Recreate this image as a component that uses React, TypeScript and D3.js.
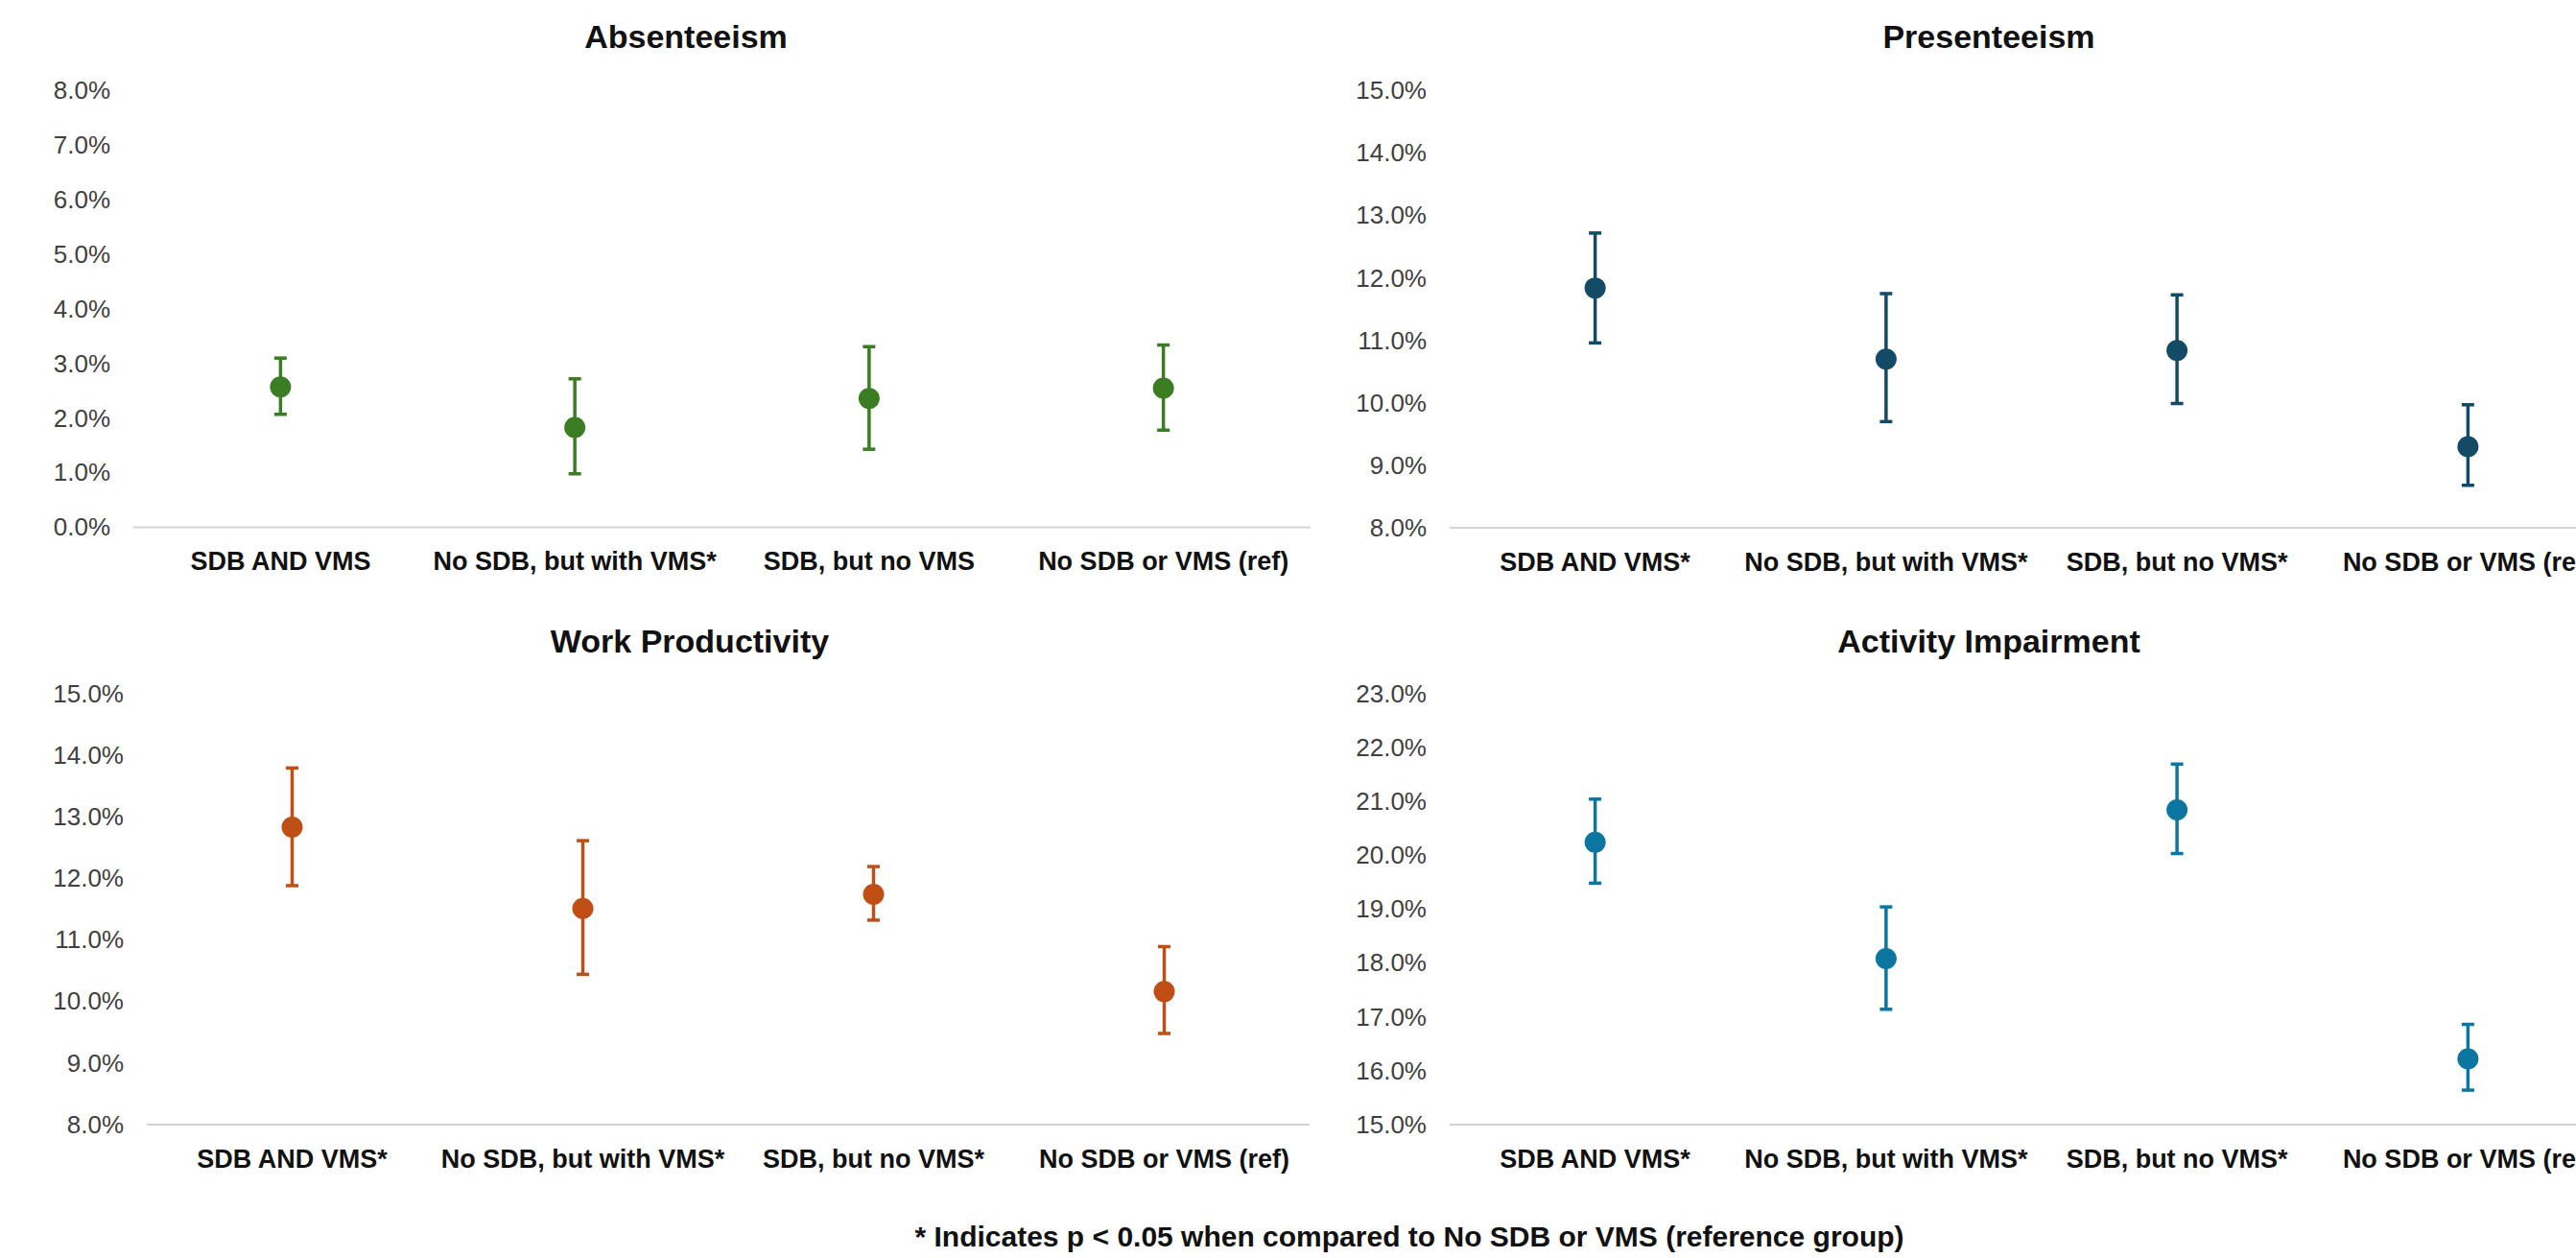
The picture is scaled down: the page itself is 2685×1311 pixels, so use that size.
import { useEffect, useRef } from 'react';
import * as d3 from 'd3';

// categories (x axis)
const categoriesAbsent = ['SDB AND VMS', 'No SDB, but with VMS*', 'SDB, but no VMS', 'No SDB or VMS (ref)'];
const categoriesOther = ['SDB AND VMS*', 'No SDB, but with VMS*', 'SDB, but no VMS*', 'No SDB or VMS (ref)'];

// values in %
const absentMean = [2.57, 1.83, 2.36, 2.55];
const absentLow = [2.07, 0.98, 1.43, 1.78];
const absentHigh = [3.10, 2.72, 3.31, 3.34];

const presentMean = [11.84, 10.70, 10.84, 9.30];
const presentLow = [10.96, 9.70, 9.99, 8.68];
const presentHigh = [12.72, 11.75, 11.73, 9.97];

const workMean = [12.83, 11.51, 11.74, 10.16];
const workLow = [11.88, 10.44, 11.32, 9.48];
const workHigh = [13.79, 12.61, 12.19, 10.89];

const activityMean = [20.24, 18.08, 20.84, 16.22];
const activityLow = [19.48, 17.14, 20.03, 15.64];
const activityHigh = [21.04, 19.04, 21.69, 16.86];

// y axis ranges
const absentTicks = [0, 1, 2, 3, 4, 5, 6, 7, 8];
const presentTicks = [8, 9, 10, 11, 12, 13, 14, 15];
const workTicks = [8, 9, 10, 11, 12, 13, 14, 15];
const activityTicks = [15, 16, 17, 18, 19, 20, 21, 22, 23];

const footnote = '* Indicates p < 0.05 when compared to No SDB or VMS (reference group)';

const FONT = "'Liberation Sans', Arial, sans-serif";

const App = () => {
  const ref = useRef<SVGSVGElement | null>(null);

  useEffect(() => {
    const svg = d3.select(ref.current);
    svg.selectAll('*').remove();

    const panels = [
      { title: 'Absenteeism', cats: categoriesAbsent, mean: absentMean, low: absentLow, high: absentHigh, ticks: absentTicks, color: '#3a7d22', x0: 139, x1: 1366, y0: 549.5, y1: 94.5, titleX: 715, titleY: 38 },
      { title: 'Presenteeism', cats: categoriesOther, mean: presentMean, low: presentLow, high: presentHigh, ticks: presentTicks, color: '#134a66', x0: 1511, x1: 2724, y0: 550, y1: 94.5, titleX: 2073, titleY: 38 },
      { title: 'Work Productivity', cats: categoriesOther, mean: workMean, low: workLow, high: workHigh, ticks: workTicks, color: '#c04f15', x0: 153, x1: 1365, y0: 1172, y1: 722.7, titleX: 719, titleY: 668 },
      { title: 'Activity Impairment', cats: categoriesOther, mean: activityMean, low: activityLow, high: activityHigh, ticks: activityTicks, color: '#0b76a0', x0: 1511, x1: 2724, y0: 1172, y1: 722.7, titleX: 2073, titleY: 668 },
    ];

    panels.forEach((p) => {
      const x = d3.scaleBand().domain(p.cats).range([p.x0, p.x1]);
      const y = d3.scaleLinear().domain([p.ticks[0], p.ticks[p.ticks.length - 1]]).range([p.y0, p.y1]);
      const g = svg.append('g');

      // title
      g.append('text')
        .attr('x', p.titleX)
        .attr('y', p.titleY)
        .attr('text-anchor', 'middle')
        .attr('dominant-baseline', 'central')
        .style('font-family', FONT)
        .style('font-weight', 'bold')
        .style('font-size', '34px')
        .style('fill', '#111')
        .text(p.title);

      // y axis labels
      const yAxis = g.append('g')
        .attr('transform', `translate(${p.x0 - 24},0)`)
        .call(d3.axisLeft(y).tickValues(p.ticks).tickSize(0).tickPadding(0).tickFormat((d) => `${(+d).toFixed(1)}%`));
      yAxis.select('.domain').remove();
      yAxis.selectAll('text')
        .style('font-family', FONT)
        .style('font-size', '26px')
        .style('fill', '#404040');

      // baseline
      g.append('line')
        .attr('x1', p.x0).attr('x2', p.x1)
        .attr('y1', p.y0).attr('y2', p.y0)
        .style('stroke', '#d4d4d4')
        .style('stroke-width', 2);

      // x labels
      const xAxis = g.append('g')
        .attr('transform', `translate(0,${p.y0 + 31})`)
        .call(d3.axisBottom(x).tickSize(0).tickPadding(0));
      xAxis.select('.domain').remove();
      xAxis.selectAll('text')
        .attr('dy', '0.5em')
        .style('font-family', FONT)
        .style('font-weight', 'bold')
        .style('font-size', '27px')
        .style('fill', '#111');

      const cx = (c: string) => (x(c) as number) + x.bandwidth() / 2;

      // error bars
      p.cats.forEach((c, i) => {
        const px = cx(c);
        g.append('line')
          .attr('x1', px).attr('x2', px)
          .attr('y1', y(p.low[i])).attr('y2', y(p.high[i]))
          .style('stroke', p.color).style('stroke-width', 3.5);
        [p.low[i], p.high[i]].forEach((v) => {
          g.append('line')
            .attr('x1', px - 6.5).attr('x2', px + 6.5)
            .attr('y1', y(v)).attr('y2', y(v))
            .style('stroke', p.color).style('stroke-width', 3.5);
        });
      });

      // markers
      g.selectAll('circle.pt')
        .data(p.mean)
        .enter()
        .append('circle')
        .attr('class', 'pt')
        .attr('cx', (_d, i) => cx(p.cats[i]))
        .attr('cy', (d) => y(d))
        .attr('r', 11)
        .style('fill', p.color);
    });

    svg.append('text')
      .attr('x', 1469)
      .attr('y', 1288)
      .attr('text-anchor', 'middle')
      .attr('dominant-baseline', 'central')
      .style('font-family', FONT)
      .style('font-weight', 'bold')
      .style('font-size', '30px')
      .style('fill', '#111')
      .text(footnote);
  }, []);

  return (
    <svg
      ref={ref}
      width={2685}
      height={1311}
      style={{ position: 'absolute', left: 0, top: 0, background: '#fff' }}
    />
  );
};

export default App;
